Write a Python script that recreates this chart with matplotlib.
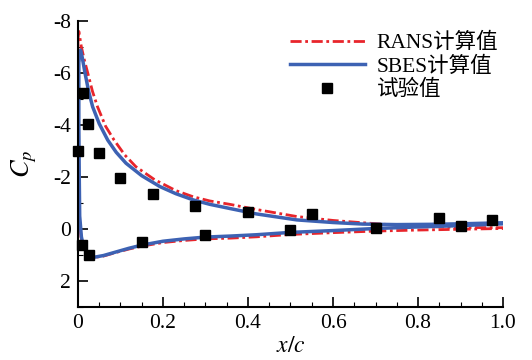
import matplotlib.pyplot as plt
from matplotlib.ticker import MultipleLocator

plt.rcParams['font.family'] = ['Liberation Serif', 'Noto Sans CJK SC']
plt.rcParams['mathtext.fontset'] = 'stix'

# RANS (upper / lower surface)
x_rans_up = [0.0, 0.002, 0.008, 0.015, 0.023, 0.034, 0.046, 0.065, 0.085, 0.11, 0.136, 0.18,
             0.23, 0.271, 0.31, 0.357, 0.42, 0.515, 0.6, 0.67, 0.75, 0.83, 0.9, 1.0]
cp_rans_up = [-7.3, -7.6, -7.0, -6.5, -6.0, -5.3, -4.7, -3.95, -3.42, -2.85, -2.4, -1.9,
              -1.48, -1.24, -1.08, -0.95, -0.75, -0.48, -0.33, -0.24, -0.15, -0.09, -0.06, -0.05]
x_rans_lo = [0.0, 0.0, 0.001, 0.003, 0.007, 0.012, 0.02, 0.03, 0.04, 0.06, 0.09, 0.12,
             0.15, 0.2, 0.25, 0.3, 0.36, 0.42, 0.5, 0.6, 0.7, 0.8, 0.9, 1.0]
cp_rans_lo = [-7.3, -4.0, -2.0, -0.5, 0.3, 0.62, 0.9, 1.05, 1.09, 1.04, 0.9, 0.77,
              0.66, 0.52, 0.44, 0.38, 0.35, 0.3, 0.21, 0.14, 0.08, 0.04, 0.01, -0.02]

# SBES (upper / lower surface)
x_sbes_up = [0.002, 0.006, 0.010, 0.0165, 0.025, 0.0345, 0.05, 0.07, 0.09, 0.113, 0.15, 0.193,
             0.23, 0.271, 0.31, 0.357, 0.42, 0.515, 0.6, 0.67, 0.75, 0.83, 0.9, 1.0]
cp_sbes_up = [-6.5, -6.88, -6.6, -6.0, -5.3, -4.7, -4.05, -3.42, -2.95, -2.53, -2.05, -1.63,
              -1.36, -1.12, -0.95, -0.79, -0.58, -0.35, -0.25, -0.19, -0.17, -0.18, -0.2, -0.24]
x_sbes_lo = [0.002, 0.002, 0.003, 0.004, 0.008, 0.012, 0.02, 0.03, 0.04, 0.06, 0.09, 0.12,
             0.15, 0.2, 0.25, 0.3, 0.36, 0.42, 0.5, 0.6, 0.7, 0.8, 0.9, 1.0]
cp_sbes_lo = [-6.5, -4.0, -2.0, -0.5, 0.3, 0.6, 0.88, 1.04, 1.08, 1.02, 0.88, 0.74,
              0.62, 0.47, 0.38, 0.31, 0.27, 0.22, 0.13, 0.06, -0.02, -0.08, -0.13, -0.2]

# experiment
x_exp = [0.0, 0.012, 0.024, 0.05, 0.10, 0.176, 0.275, 0.40, 0.55, 0.85, 0.975,
         0.01, 0.025, 0.15, 0.30, 0.50, 0.70, 0.90]
cp_exp = [-3.0, -5.23, -4.04, -2.92, -1.96, -1.35, -0.88, -0.64, -0.57, -0.42, -0.35,
          0.62, 1.0, 0.5, 0.23, 0.05, -0.04, -0.13]

x_ticks = [0, 0.2, 0.4, 0.6, 0.8, 1.0]
x_labels = ['0', '0.2', '0.4', '0.6', '0.8', '1.0']
y_ticks = [-8, -6, -4, -2, 0, 2]
y_labels = ['-8', '-6', '-4', '-2', '0', '2']

fig = plt.figure(figsize=(5.32, 3.6), dpi=100)
ax = fig.add_axes([0.1466, 0.1472, 0.7989, 0.7944])

red = '#e8252b'
blue = '#3d62b3'
dash = (0, (4, 1.3, 1.0, 1.3))

l1, = ax.plot(x_rans_up, cp_rans_up, color=red, lw=2.0, ls=dash, label='RANS计算值')
ax.plot(x_rans_lo, cp_rans_lo, color=red, lw=2.0, ls=dash)
l2, = ax.plot(x_sbes_up, cp_sbes_up, color=blue, lw=2.5, label='SBES计算值')
ax.plot(x_sbes_lo, cp_sbes_lo, color=blue, lw=2.5)
l3, = ax.plot(x_exp, cp_exp, 's', color='black', ms=7, ls='none', label='试验值',
              clip_on=False, zorder=5)

ax.set_xlim(0, 1.0)
ax.set_ylim(3, -8)
ax.set_xticks(x_ticks)
ax.set_xticklabels(x_labels, fontsize=15.5)
ax.set_yticks(y_ticks)
ax.set_yticklabels(y_labels, fontsize=15.5)
ax.xaxis.set_minor_locator(MultipleLocator(0.05))
ax.yaxis.set_minor_locator(MultipleLocator(1))
ax.tick_params(which='major', direction='in', length=7, width=1.2, pad=5)
ax.tick_params(which='minor', direction='in', length=3.5, width=0.8)

for s in ['top', 'right']:
    ax.spines[s].set_visible(False)
for s in ['left', 'bottom']:
    ax.spines[s].set_linewidth(1.5)

ax.set_xlabel(r'$x/c$', fontsize=17, labelpad=2)
ax.set_ylabel(r'$C_p$', fontsize=19, labelpad=10)

ax.legend(handles=[l1, l2, l3], loc='upper left', bbox_to_anchor=(0.508, 0.962),
          frameon=False, fontsize=15.5, handlelength=3.5, handletextpad=0.55,
          labelspacing=0.15, bbox_transform=fig.transFigure)

fig.savefig('out.png', dpi=100)
